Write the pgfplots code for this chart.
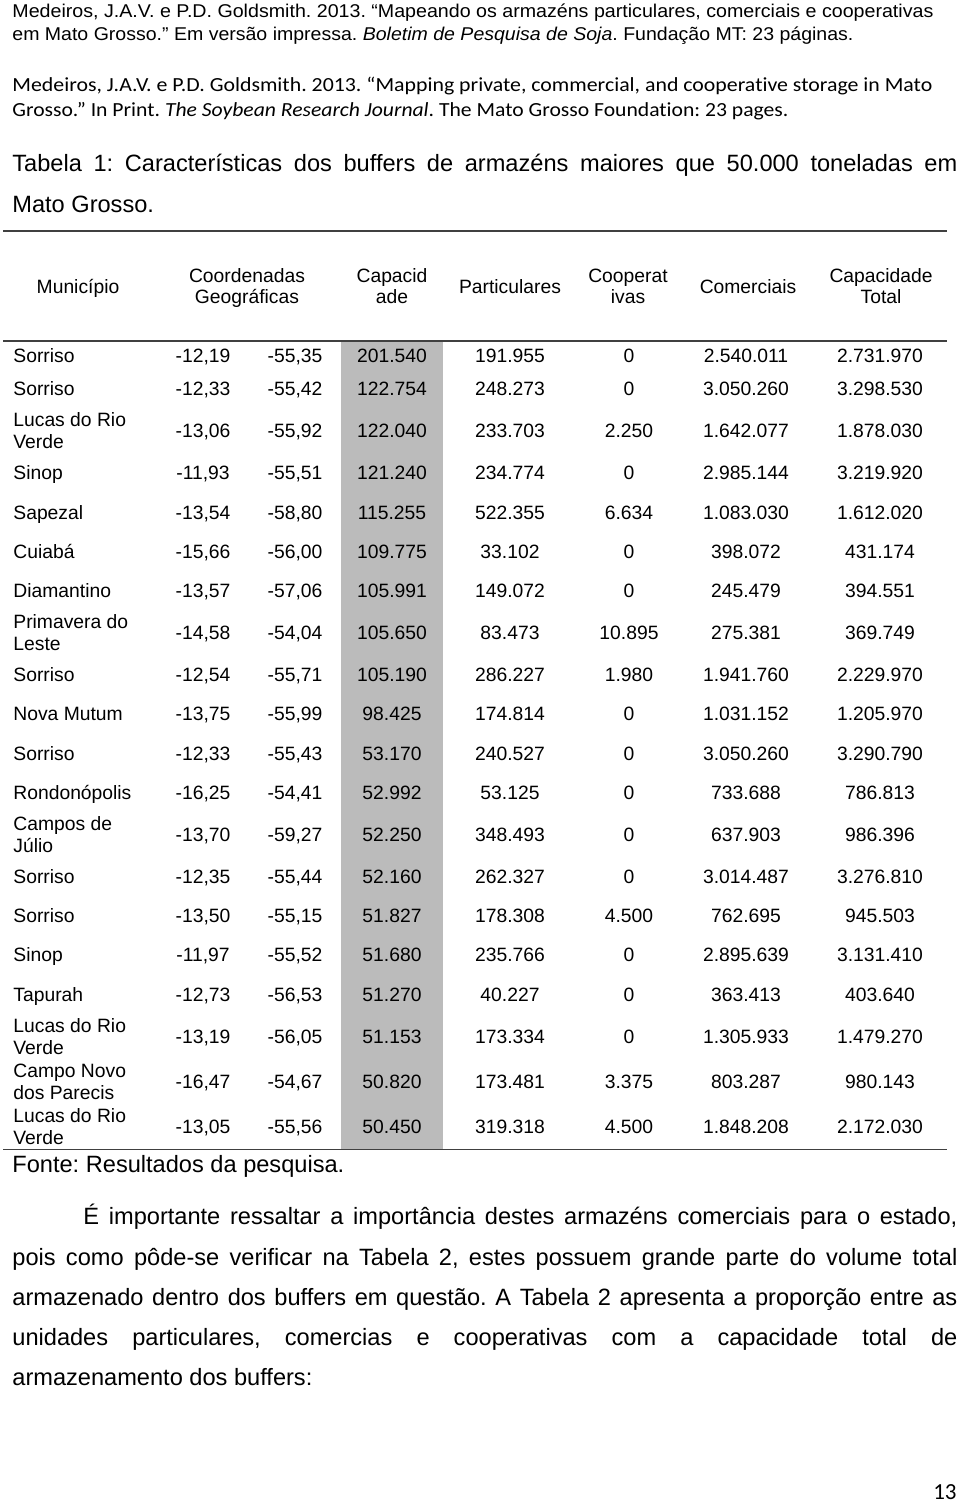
\documentclass[border=0pt]{standalone}
\usepackage{pgfplots}
\pgfplotsset{compat=1.18}
\usepackage{pgfplotstable}
\usepackage{graphicx}
\usepackage{fontspec}
\setmainfont{Liberation Sans}
\newfontfamily\calibri[Ligatures=NoCommon]{Carlito}
\newlength\pxu
\setlength\pxu{0.5pt}
\definecolor{cellgray}{RGB}{187,187,187}
\definecolor{rulegray}{RGB}{64,64,64}
\newcommand\tabfont{\fontsize{9.65pt}{11pt}\selectfont}
\newcommand\bodyfont{\fontsize{11.8pt}{14pt}\selectfont}
\newcommand\citefont{\fontsize{9.25pt}{11pt}\selectfont}
\newcommand\calfont{\calibri\fontsize{10pt}{12pt}\selectfont}
\newcommand\pagefont{\calibri\fontsize{11.5pt}{13pt}\selectfont}
\frenchspacing

\pgfplotstableread[col sep=semicolon]{
y;lat;lon;cap;part;coop;com;tot
362.5;-12,19;-55,35;201.540;191.955;0;2.540.011;2.731.970
395.5;-12,33;-55,42;122.754;248.273;0;3.050.260;3.298.530
437.5;-13,06;-55,92;122.040;233.703;2.250;1.642.077;1.878.030
479.5;-11,93;-55,51;121.240;234.774;0;2.985.144;3.219.920
519.5;-13,54;-58,80;115.255;522.355;6.634;1.083.030;1.612.020
558.5;-15,66;-56,00;109.775;33.102;0;398.072;431.174
597.5;-13,57;-57,06;105.991;149.072;0;245.479;394.551
639.5;-14,58;-54,04;105.650;83.473;10.895;275.381;369.749
681.5;-12,54;-55,71;105.190;286.227;1.980;1.941.760;2.229.970
720.5;-13,75;-55,99;98.425;174.814;0;1.031.152;1.205.970
760.5;-12,33;-55,43;53.170;240.527;0;3.050.260;3.290.790
799.5;-16,25;-54,41;52.992;53.125;0;733.688;786.813
841.5;-13,70;-59,27;52.250;348.493;0;637.903;986.396
883.5;-12,35;-55,44;52.160;262.327;0;3.014.487;3.276.810
922.5;-13,50;-55,15;51.827;178.308;4.500;762.695;945.503
961.5;-11,97;-55,52;51.680;235.766;0;2.895.639;3.131.410
1001.5;-12,73;-56,53;51.270;40.227;0;363.413;403.640
1043.5;-13,19;-56,05;51.153;173.334;0;1.305.933;1.479.270
1088.5;-16,47;-54,67;50.820;173.481;3.375;803.287;980.143
1133.5;-13,05;-55,56;50.450;319.318;4.500;1.848.208;2.172.030
}\tabdata

\pgfplotstableread[col sep=semicolon]{
y;name
362.5;Sorriso
395.5;Sorriso
426.5;Lucas do Rio
448.5;Verde
479.5;Sinop
519.5;Sapezal
558.5;Cuiabá
597.5;Diamantino
628.5;Primavera do
650.5;Leste
681.5;Sorriso
720.5;Nova Mutum
760.5;Sorriso
799.5;Rondonópolis
830.5;Campos de
852.5;Júlio
883.5;Sorriso
922.5;Sorriso
961.5;Sinop
1001.5;Tapurah
1032.5;Lucas do Rio
1054.5;Verde
1077.5;Campo Novo
1099.5;dos Parecis
1122.5;Lucas do Rio
1144.5;Verde
}\munic

\newcommand\colplot[2]{%
  \addplot[draw=none, mark=none, nodes near coords, point meta=explicit symbolic,
    every node near coord/.append style={anchor=base, inner sep=0pt, font=\tabfont, text=black}]
    table[x expr=#1, y=y, meta=#2] {\tabdata};}

\begin{document}
\begin{tikzpicture}
\begin{axis}[scale only axis, width=480pt, height=752pt,
  xmin=0, xmax=960, ymin=0, ymax=1504, y dir=reverse,
  hide axis, clip=false]
% page background
\addplot[fill=white, draw=none] coordinates {(0,0) (960,0) (960,1504) (0,1504)};
% shaded capacity column
\addplot[fill=cellgray, draw=none] coordinates {(341,342) (443,342) (443,1149) (341,1149)};
% rules
\addplot[rulegray, line width=0.75pt] coordinates {(3,231) (947,231)};
\addplot[rulegray, line width=0.75pt] coordinates {(3,341) (947,341)};
\addplot[rulegray, line width=0.75pt] coordinates {(3,1149.5) (947,1149.5)};

% table body
\addplot[draw=none, mark=none, nodes near coords, point meta=explicit symbolic,
  every node near coord/.append style={anchor=base west, inner sep=0pt, font=\tabfont, text=black}]
  table[x expr=13, y=y, meta=name] {\munic};
\colplot{203}{lat}
\colplot{295}{lon}
\colplot{392}{cap}
\colplot{510}{part}
\colplot{629}{coop}
\colplot{746}{com}
\colplot{880}{tot}

% citations
\node[anchor=base west, inner sep=0pt, font=\citefont] at (axis cs:12,18)
  {\resizebox{921\pxu}{\height}{Medeiros, J.A.V. e P.D. Goldsmith. 2013. “Mapeando os armazéns particulares, comerciais e cooperativas}};
\node[anchor=base west, inner sep=0pt, font=\citefont] at (axis cs:12,41)
  {\resizebox{841\pxu}{\height}{em Mato Grosso.” Em versão impressa. \textit{Boletim de Pesquisa de Soja}. Fundação MT: 23 páginas.}};
\node[anchor=base west, inner sep=0pt, font=\calfont] at (axis cs:12,92)
  {\resizebox{920\pxu}{\height}{Medeiros, J.A.V. e P.D. Goldsmith. 2013. “Mapping private, commercial, and cooperative storage in Mato}};
\node[anchor=base west, inner sep=0pt, font=\calfont] at (axis cs:12,117)
  {\resizebox{776\pxu}{\height}{Grosso.” In Print. \textit{The Soybean Research Journal}. The Mato Grosso Foundation: 23 pages.}};

% table title
\node[anchor=base west, inner sep=0pt, font=\bodyfont] at (axis cs:12,171)
  {\makebox[945\pxu][s]{Tabela 1: Características dos buffers de armazéns maiores que 50.000 toneladas em}};
\node[anchor=base west, inner sep=0pt, font=\bodyfont] at (axis cs:12,212) {Mato Grosso.};

% header
\node[anchor=base, inner sep=0pt, font=\tabfont] at (axis cs:78,293) {Município};
\node[anchor=base, inner sep=0pt, font=\tabfont] at (axis cs:247,282) {Coordenadas};
\node[anchor=base, inner sep=0pt, font=\tabfont] at (axis cs:247,303) {Geográficas};
\node[anchor=base, inner sep=0pt, font=\tabfont] at (axis cs:392,282) {Capacid};
\node[anchor=base, inner sep=0pt, font=\tabfont] at (axis cs:392,303) {ade};
\node[anchor=base, inner sep=0pt, font=\tabfont] at (axis cs:510,293) {Particulares};
\node[anchor=base, inner sep=0pt, font=\tabfont] at (axis cs:628,282) {Cooperat};
\node[anchor=base, inner sep=0pt, font=\tabfont] at (axis cs:628,303) {ivas};
\node[anchor=base, inner sep=0pt, font=\tabfont] at (axis cs:748,293) {Comerciais};
\node[anchor=base, inner sep=0pt, font=\tabfont] at (axis cs:881,282) {Capacidade};
\node[anchor=base, inner sep=0pt, font=\tabfont] at (axis cs:881,303) {Total};

% source
\node[anchor=base west, inner sep=0pt, font=\bodyfont] at (axis cs:12,1172) {Fonte: Resultados da pesquisa.};

% paragraph
\node[anchor=base west, inner sep=0pt, font=\bodyfont] at (axis cs:83,1224)
  {\makebox[874\pxu][s]{É importante ressaltar a importância destes armazéns comerciais para o estado,}};
\node[anchor=base west, inner sep=0pt, font=\bodyfont] at (axis cs:12,1265)
  {\makebox[945\pxu][s]{pois como pôde-se verificar na Tabela 2, estes possuem grande parte do volume total}};
\node[anchor=base west, inner sep=0pt, font=\bodyfont] at (axis cs:12,1305)
  {\makebox[945\pxu][s]{armazenado dentro dos buffers em questão. A Tabela 2 apresenta a proporção entre as}};
\node[anchor=base west, inner sep=0pt, font=\bodyfont] at (axis cs:12,1345)
  {\makebox[945\pxu][s]{unidades particulares, comercias e cooperativas com a capacidade total de}};
\node[anchor=base west, inner sep=0pt, font=\bodyfont] at (axis cs:12,1385) {armazenamento dos buffers:};

% page number
\node[anchor=base east, inner sep=0pt, font=\pagefont] at (axis cs:957,1499) {13};
\end{axis}
\end{tikzpicture}
\end{document}
